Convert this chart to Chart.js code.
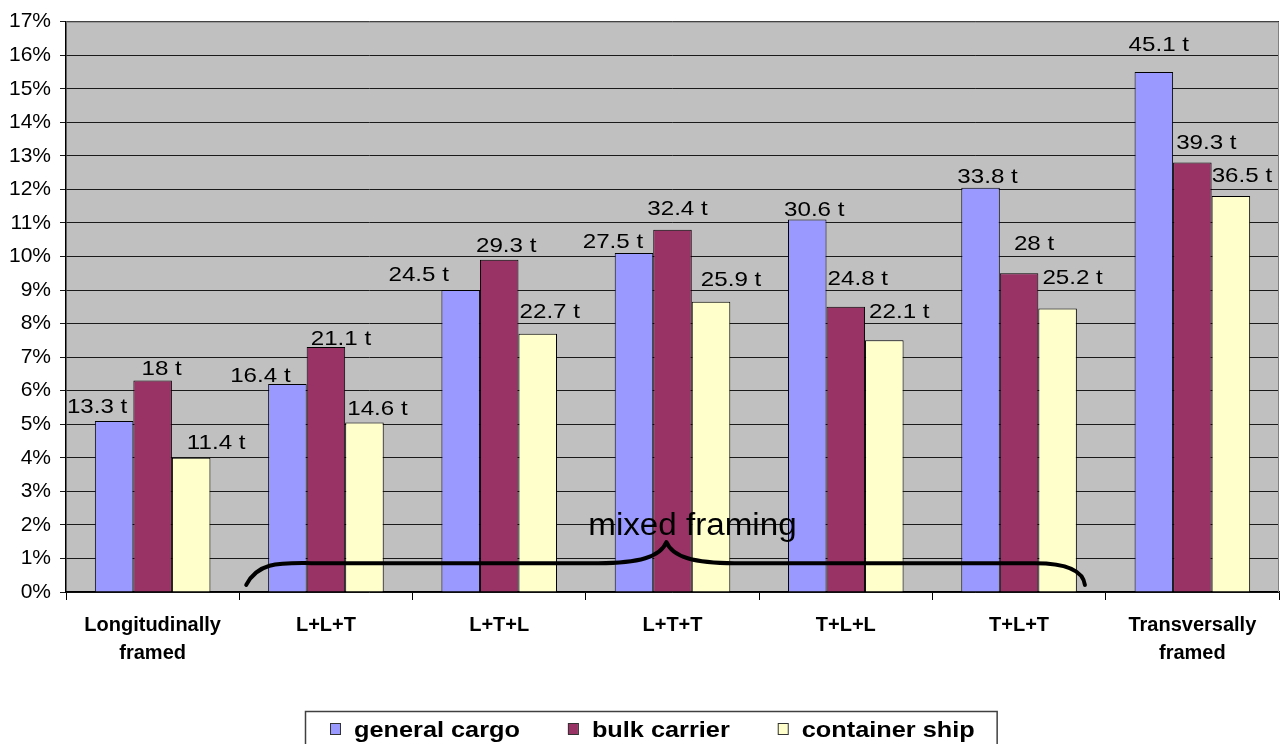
<!DOCTYPE html>
<html><head><meta charset="utf-8">
<script src="https://cdn.jsdelivr.net/npm/chart.js@4.4.1/dist/chart.umd.min.js"></script>
<style>html,body{margin:0;padding:0;background:#fff;}canvas{display:block;}</style>
</head><body>
<canvas id="c" width="1287" height="744"></canvas>
<script>
// ---- data ----
const categories = [['Longitudinally', 'framed'], 'L+L+T', 'L+T+L', 'L+T+T', 'T+L+L', 'T+L+T', ['Transversally', 'framed']];
const seriesNames = ['general cargo', 'bulk carrier', 'container ship'];
const generalCargo = [5.1, 6.2, 9.0, 10.1, 11.1, 12.05, 15.5];
const bulkCarrier = [6.3, 7.3, 9.9, 10.8, 8.5, 9.5, 12.8];
const containerShip = [4.0, 5.05, 7.7, 8.65, 7.5, 8.45, 11.8];
const generalCargoTonnes = ['13.3 t', '16.4 t', '24.5 t', '27.5 t', '30.6 t', '33.8 t', '45.1 t'];
const bulkCarrierTonnes = ['18 t', '21.1 t', '29.3 t', '32.4 t', '24.8 t', '28 t', '39.3 t'];
const containerShipTonnes = ['11.4 t', '14.6 t', '22.7 t', '25.9 t', '22.1 t', '25.2 t', '36.5 t'];
const yMin = 0, yMax = 17, yStep = 1;
const annotationText = 'mixed framing';

// ---- styles ----
const FONT = '"Liberation Sans", Arial, sans-serif';
const colors = ['#9999FF', '#993366', '#FFFFCC'];
const TEXT_STRETCH = 1.15;
// label placement nudges (pixels, relative to bar top centre)
const labelDx = [[-17, -27, -42, -21, 7, 7, 5], [9, 15, 7, 5, 12, 15, 14], [25, 13, 12, 20, 15, 15, 11]];
const labelDy = [[-8, -2, -9, -5, -4, -5, -21], [-6, -2, -8, -15, -22, -23, -14], [-9, -8, -16, -16, -22, -24, -14]];
const tonnes = [generalCargoTonnes, bulkCarrierTonnes, containerShipTonnes];

function stretchText(ctx, text, x, y, align, sx) {
  ctx.save();
  ctx.translate(x, y);
  ctx.scale(sx || TEXT_STRETCH, 1);
  ctx.textAlign = align;
  ctx.fillText(text, 0, 0);
  ctx.restore();
}

const bgPlugin = {
  id: 'bg',
  beforeDraw(chart) {
    const a = chart.chartArea, ctx = chart.ctx;
    ctx.save();
    ctx.fillStyle = '#C0C0C0';
    ctx.fillRect(a.left, a.top, a.right - a.left, a.bottom - a.top);
    ctx.restore();
  },
  afterDatasetsDraw(chart) {
    const a = chart.chartArea, ctx = chart.ctx;
    ctx.save();
    ctx.strokeStyle = '#808080';
    ctx.lineWidth = 1;
    ctx.beginPath();
    ctx.moveTo(a.left, a.top + 0.5);
    ctx.lineTo(a.right - 0.5, a.top + 0.5);
    ctx.lineTo(a.right - 0.5, a.bottom);
    ctx.stroke();
    ctx.restore();
  }
};

const labelPlugin = {
  id: 'tlabels',
  afterDatasetsDraw(chart) {
    const ctx = chart.ctx;
    ctx.save();
    ctx.fillStyle = '#000';
    ctx.font = '21px ' + FONT;
    ctx.textBaseline = 'alphabetic';
    chart.data.datasets.forEach((ds, di) => {
      const meta = chart.getDatasetMeta(di);
      meta.data.forEach((bar, i) => {
        stretchText(ctx, tonnes[di][i], bar.x + labelDx[di][i], bar.y + labelDy[di][i], 'center');
      });
    });
    ctx.restore();
  }
};

const bracePlugin = {
  id: 'brace',
  afterDatasetsDraw(chart) {
    const ctx = chart.ctx, xs = chart.scales.x, ys = chart.scales.y;
    const cw = xs.getPixelForValue(1) - xs.getPixelForValue(0);
    const x0 = xs.getPixelForValue(1) - 0.46 * cw;
    const x1 = xs.getPixelForValue(5) + 0.38 * cw;
    const xm = xs.getPixelForValue(3) - 0.035 * cw;
    const yEnd = ys.getPixelForValue(0.21);
    const yFlat = ys.getPixelForValue(0.86);
    const yPeak = ys.getPixelForValue(1.49);
    ctx.save();
    ctx.strokeStyle = '#000';
    ctx.lineWidth = 4;
    ctx.lineCap = 'round';
    ctx.lineJoin = 'round';
    ctx.beginPath();
    ctx.moveTo(x0, yEnd);
    ctx.bezierCurveTo(x0 + 12, yFlat - 2, x0 + 35, yFlat, x0 + 65, yFlat);
    ctx.lineTo(xm - 68, yFlat);
    ctx.bezierCurveTo(xm - 28, yFlat, xm - 6, yFlat - 6, xm, yPeak);
    ctx.bezierCurveTo(xm + 6, yFlat - 6, xm + 28, yFlat, xm + 68, yFlat);
    ctx.lineTo(x1 - 50, yFlat);
    ctx.bezierCurveTo(x1 - 20, yFlat, x1 - 2, yFlat + 6, x1, yEnd);
    ctx.stroke();
    ctx.fillStyle = '#000';
    ctx.font = '31px ' + FONT;
    ctx.textBaseline = 'alphabetic';
    stretchText(ctx, annotationText, xm + 0.15 * cw, ys.getPixelForValue(1.70), 'center', 1.07);
    ctx.restore();
  }
};

const legendPlugin = {
  id: 'customLegend',
  afterDraw(chart) {
    const ctx = chart.ctx;
    ctx.save();
    ctx.font = 'bold 22px ' + FONT;
    const mw = 10, mh = 11, gapMT = 14, gapItems = 48, padL = 25, padR = 22;
    const widths = seriesNames.map(s => ctx.measureText(s).width * TEXT_STRETCH);
    const content = widths.reduce((s, w) => s + mw + gapMT + w, 0) + gapItems * (seriesNames.length - 1);
    const boxW = padL + content + padR;
    const cx = chart.width / 2 + 7;
    const bx = Math.round(cx - boxW / 2), by = 711, bh = 34;
    ctx.strokeStyle = '#404040';
    ctx.lineWidth = 1.5;
    ctx.strokeRect(bx + 0.5, by + 0.5, boxW, bh);
    let x = bx + padL;
    ctx.textBaseline = 'alphabetic';
    seriesNames.forEach((s, i) => {
      ctx.fillStyle = colors[i];
      ctx.fillRect(x, 723, mw, mh);
      ctx.strokeStyle = '#333';
      ctx.lineWidth = 1;
      ctx.strokeRect(x + 0.5, 723.5, mw, mh);
      x += mw + gapMT;
      ctx.fillStyle = '#000';
      stretchText(ctx, s, x, 737, 'left');
      x += widths[i] + gapItems;
    });
    ctx.restore();
  }
};

const seriesValues = [generalCargo, bulkCarrier, containerShip];

new Chart(document.getElementById('c'), {
  type: 'bar',
  data: {
    labels: categories,
    datasets: seriesNames.map((name, i) => ({
      label: name,
      data: seriesValues[i],
      backgroundColor: colors[i],
      borderColor: '#000',
      borderWidth: 1,
      categoryPercentage: 0.667,
      barPercentage: 1.0
    }))
  },
  options: {
    responsive: false,
    animation: false,
    devicePixelRatio: 1,
    layout: { padding: { top: 21, right: 8, left: 0, bottom: 0 } },
    plugins: { legend: { display: false }, tooltip: { enabled: false } },
    scales: {
      x: {
        grid: { drawOnChartArea: false, drawTicks: true, tickLength: 8, color: '#000', offset: true },
        border: { color: '#000', width: 1.5 },
        ticks: { color: '#000', font: { family: FONT, size: 20, weight: 'bold', lineHeight: 1.4 }, padding: 11, maxRotation: 0, autoSkip: false },
        afterFit(scale) { scale.height = 152; }
      },
      y: {
        min: yMin, max: yMax,
        grid: { color: '#1a1a1a', lineWidth: 1, tickLength: 6, drawTicks: true },
        border: { color: '#000', width: 1.5 },
        ticks: { stepSize: yStep, color: '#000', font: { family: FONT, size: 21 }, padding: 9, callback: v => v + '%' },
        afterFit(scale) { scale.width = 66; }
      }
    }
  },
  plugins: [bgPlugin, labelPlugin, bracePlugin, legendPlugin]
});
</script>
</body></html>
